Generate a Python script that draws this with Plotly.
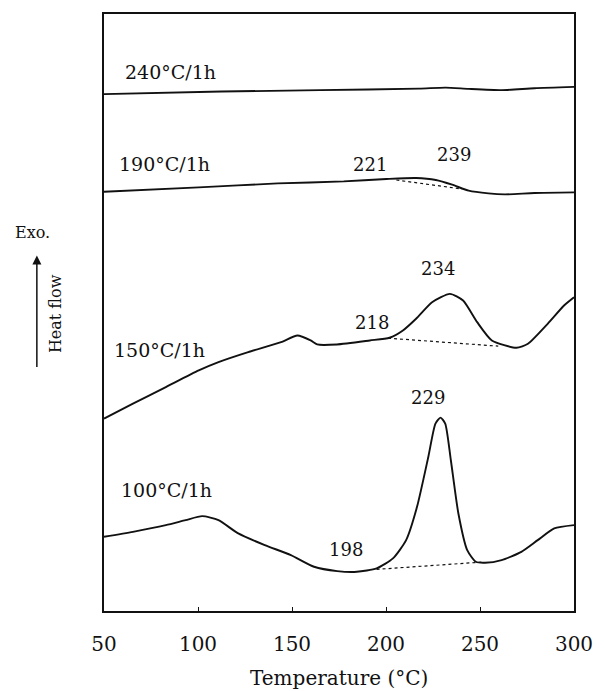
import plotly.graph_objects as go

# DSC traces of samples annealed at different temperatures (heat flow, arbitrary units)
t_240 = [50, 112.5, 165, 217.6, 231.7, 243.9, 261.7, 279, 300]
hf_240 = [517.7, 520.3, 521.7, 523.3, 524.3, 523, 521.7, 523.7, 525]

t_190 = [50, 100.4, 142.4, 177.5, 200.2, 216, 226.5, 235.2, 244, 254.5, 263.2, 279, 300]
hf_190 = [420, 424.3, 428.3, 430.3, 432.7, 433.7, 431.7, 427, 421, 418.3, 417.3, 418.7, 419.3]

t_150 = [50, 65.4, 82.9, 100.4, 110.9, 126.7, 144.2, 152.9, 159.9, 163.4, 173.9, 191.4,
         201.9, 209, 216, 224.5, 234, 241, 248.5, 256.3, 269.4, 275.5, 286, 294.7, 300]
hf_150 = [192.7, 207.7, 224.3, 241, 249.3, 259.3, 269.3, 276, 271, 267, 267, 271,
          273.7, 281, 292.7, 309.3, 317.7, 311, 289.3, 271, 263.7, 267.7, 287.7, 306, 314.3]

t_100 = [50, 65.4, 82.9, 93.4, 102.2, 110.9, 121.4, 135.5, 149.4, 161.7, 174, 184.5, 195,
         203.7, 210.7, 216.5, 222.5, 226.3, 229, 231.5, 234.5, 238.5, 243.2, 247.8, 252.7,
         261.5, 272, 280.7, 289.5, 300]
hf_100 = [74.3, 79.3, 86, 91, 95, 91, 77.7, 66, 56, 44.3, 40, 39.3, 42.7,
          52.7, 71, 104.3, 154.3, 187.7, 193.7, 187.7, 151, 97.7, 61, 49.3, 48.3,
          51, 59.3, 71, 82.7, 86]

# Dashed baselines under the exotherms
base_190_t = [205.5, 240.5]
base_190_hf = [431.7, 422.7]
base_150_t = [201.1, 259.7]
base_150_hf = [273.3, 265.3]
base_100_t = [195, 251]
base_100_hf = [41.7, 49]

# Curve labels and characteristic temperatures
curve_names = ["240°C/1h", "190°C/1h", "150°C/1h", "100°C/1h"]
curve_label_t = [60, 56.7, 54, 57.9]
curve_label_hf = [540, 447.5, 261, 121]

peak_texts = ["221", "239", "218", "234", "198", "229"]
peak_label_t = [191.4, 236.1, 192.7, 227.4, 178.7, 222.6]
peak_label_hf = [447, 457, 289.3, 342.7, 62, 214.3]

x_ticks = [50, 100, 150, 200, 250, 300]

FONT = "DejaVu Serif"
INK = "#111111"

fig = go.Figure()
for t, hf in [(t_240, hf_240), (t_190, hf_190), (t_150, hf_150), (t_100, hf_100)]:
    fig.add_trace(go.Scatter(x=t, y=hf, mode="lines",
                             line=dict(color=INK, width=1.9, shape="spline", smoothing=0.6),
                             showlegend=False, hoverinfo="skip"))
for t, hf in [(base_190_t, base_190_hf), (base_150_t, base_150_hf), (base_100_t, base_100_hf)]:
    fig.add_trace(go.Scatter(x=t, y=hf, mode="lines",
                             line=dict(color=INK, width=1.2, dash="3px,3px"),
                             showlegend=False, hoverinfo="skip"))

annotations = []
for name, tx, hy in zip(curve_names, curve_label_t, curve_label_hf):
    annotations.append(dict(x=tx, y=hy, text=name, showarrow=False, xanchor="left",
                            yanchor="middle", font=dict(family=FONT, size=19, color=INK)))
for txt, tx, hy in zip(peak_texts, peak_label_t, peak_label_hf):
    annotations.append(dict(x=tx, y=hy, text=txt, showarrow=False, xanchor="center",
                            yanchor="middle", font=dict(family=FONT, size=18, color=INK)))

# Axis title and the exotherm direction marker on the left
annotations += [
    dict(xref="paper", yref="paper", x=0.5, y=-67 / 598, text="Temperature (°C)",
         showarrow=False, xanchor="center", yanchor="middle",
         font=dict(family=FONT, size=20, color=INK)),
    dict(xref="paper", yref="paper", x=-72 / 476, y=379 / 598, text="Exo.",
         showarrow=False, xanchor="center", yanchor="middle",
         font=dict(family=FONT, size=16, color=INK)),
    dict(xref="paper", yref="paper", x=-49 / 476, y=298 / 598, text="Heat flow",
         showarrow=False, textangle=-90, xanchor="center", yanchor="middle",
         font=dict(family=FONT, size=16, color=INK)),
    dict(xref="paper", yref="paper", x=-68 / 476, y=356 / 598, text="",
         showarrow=True, ax=0, ay=113, arrowhead=2, arrowsize=1.2, arrowwidth=1.5,
         arrowcolor=INK),
]

fig.update_layout(
    width=605, height=691,
    margin=dict(l=104, r=25, t=13, b=80),
    paper_bgcolor="white", plot_bgcolor="white",
    annotations=annotations,
    xaxis=dict(range=[50, 300], tickvals=x_ticks, ticktext=[str(v) for v in x_ticks],
               showline=True, mirror=True, linecolor=INK, linewidth=1.6,
               ticks="inside", ticklen=4, tickcolor=INK, showgrid=False, zeroline=False,
               ticklabelstandoff=14,
               tickfont=dict(family=FONT, size=20, color=INK)),
    yaxis=dict(range=[0, 598], showline=True, mirror=True, linecolor=INK, linewidth=1.6,
               showticklabels=False, ticks="", showgrid=False, zeroline=False),
)

fig.write_html("out.html")
